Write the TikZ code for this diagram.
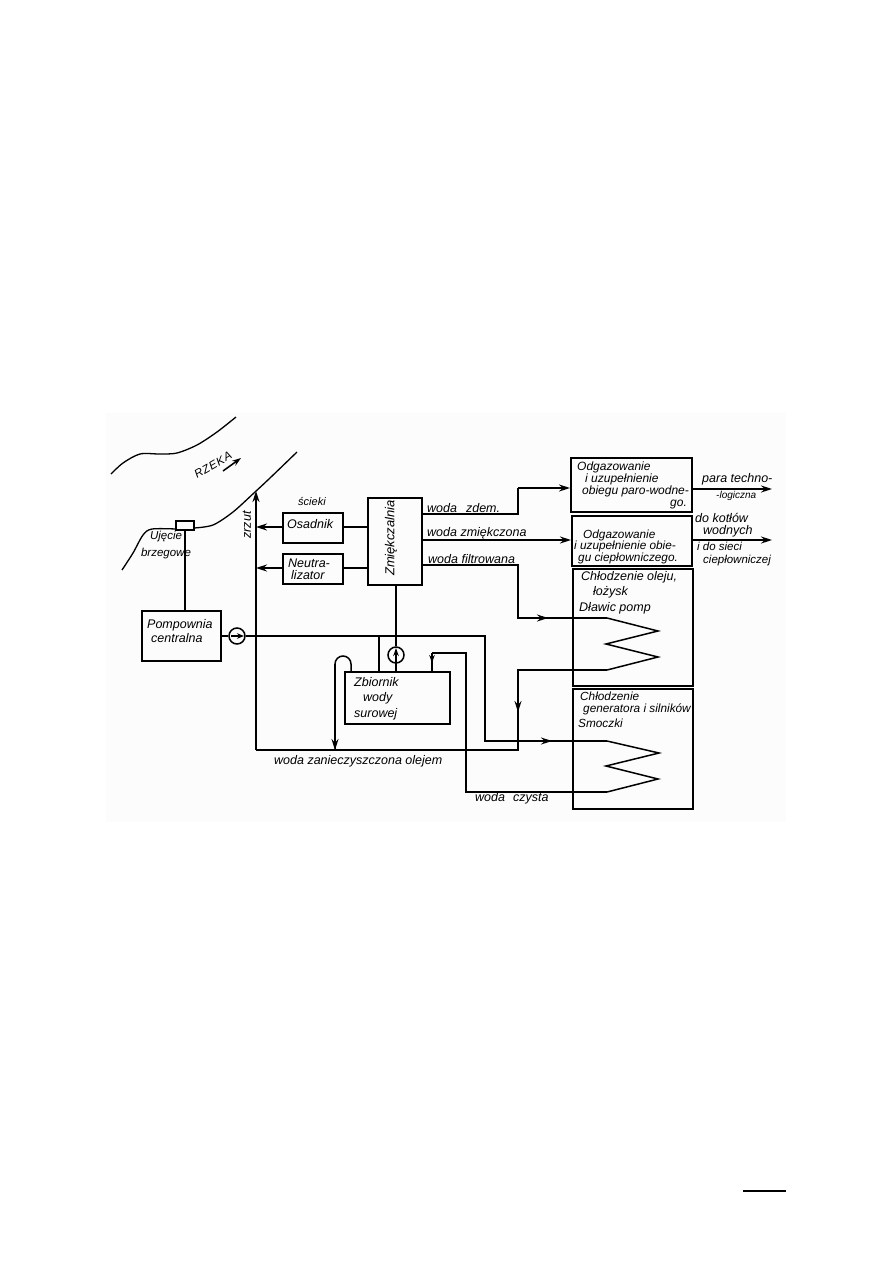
\documentclass[tikz,border=0pt]{standalone}
\usepackage{fontspec}
\setmainfont{Liberation Sans}
\usepackage{tikz}
\usetikzlibrary{arrows.meta, positioning}

\tikzset{
	box/.style={draw, line width=1.5pt, inner sep=0pt, anchor=north west},
	label/.style={font=\itshape\fontsize{12.5}{12}\selectfont, align=left, inner sep=0pt, anchor=west},
	pump/.style={draw, circle, line width=1.5pt, minimum size=16pt, inner sep=0pt},
	line/.style={line width=1.5pt},
	flow/.style={line width=1.5pt, -{Stealth[length=11pt,width=7pt]}},
	shore/.style={line width=1.3pt, smooth},
}

\begin{document}
\begin{tikzpicture}[x=1pt, y=-1pt]
	\useasboundingbox (0,0) rectangle (893,1263);
	\fill[black!1] (106,413) rectangle (786,822);
	
	% rzeka
	\draw[shore] plot coordinates {(111,474) (123,463) (140,454) (160,454) (177,453) (197,445) (217,432) (236,417)};
	\draw[shore] plot coordinates {(122,570) (133,553) (143,535) (152,529) (176,529)};
	\draw[shore] plot coordinates {(194,528) (213,525) (233,512) (255,492) (270,478) (297,452)};
	\node[rotate=30, inner sep=0pt, font=\itshape\fontsize{11.5}{12}\selectfont\addfontfeature{LetterSpace=6}] (rzeka) at (213,465) {RZEKA};
	\coordinate (rzekaA) at (223,471);
	\coordinate (rzekaB) at (241,458);
	\draw[flow, -{Stealth[length=9pt,width=6pt]}] (rzekaA) -- (rzekaB);
	
	% bloki po lewej
	\node[box, minimum width=18pt, minimum height=9pt] (ujecie) at (175,520) {};
	\node[label, align=center, anchor=center, font=\itshape\fontsize{11.5}{17}\selectfont] (ujecieT) at (166,545) {Ujęcie\\brzegowe};
	\node[box, minimum width=79pt, minimum height=50pt] (pompownia) at (141,610) {};
	\node[label, font=\itshape\fontsize{12.5}{14}\selectfont] at (147,631) {Pompownia\\\hspace{4pt}centralna};
	\node[pump] (pump1) at (237,636) {};
	\draw[line] (ujecie.south) -- (ujecie.south |- pompownia.north);
	\draw[line] (pompownia.east |- pump1) -- (pump1);
	
	% zrzut
	\node[box, minimum width=60pt, minimum height=30pt] (osadnik) at (282,512) {};
	\node[label] at (287,524) {Osadnik};
	\node[label, font=\itshape\fontsize{11}{12}\selectfont] (scieki) at (298,501) {ścieki};
	\node[box, minimum width=60pt, minimum height=30pt] (neutr) at (282,553) {};
	\node[label] at (288,569.5) {Neutra-\\\hspace{3pt}lizator};
	\node[box, minimum width=54pt, minimum height=87pt] (zmiek) at (367,497) {};
	\node[label, anchor=center, rotate=90, font=\itshape\fontsize{13}{12}\selectfont] at (391,538) {Zmiękczalnia};
	\node[label, anchor=center, rotate=90] (zrzut) at (247,525) {zrzut};
	\coordinate (zrzutTop) at (256,491);
	\coordinate (zrzutBot) at (256,750);
	\coordinate (osadL) at (256,527);
	\coordinate (neutrL) at (256,568);
	\draw[flow, line width=1.7pt] (zrzutBot) -- (zrzutTop);
	\draw[flow] (osadnik.west |- osadL) -- (osadL);
	\draw[flow] (neutr.west |- neutrL) -- (neutrL);
	\draw[line] (osadnik.east |- osadL) -- (zmiek.west |- osadL);
	\draw[line] (neutr.east |- neutrL) -- (zmiek.west |- neutrL);
	
	% zbiornik
	\node[box, minimum width=105pt, minimum height=52pt] (zbiornik) at (344,671) {};
	\node[label, font=\itshape\fontsize{12.5}{15.5}\selectfont] at (354,698.5) {Zbiornik\\\hspace{9pt}wody\\surowej};
	\node[pump] (pump2) at (396,655) {};
	\coordinate (pump2arrow) at (396,648);
	\draw[line] (zmiek.south -| pump2) -- (pump2);
	\draw[line] (pump2) -- (zbiornik.north -| pump2);
	\draw[flow, -{Stealth[length=8pt,width=5.5pt]}] (pump2.south) -- (pump2arrow);
	\coordinate (pump1A) at (231,636);
	\coordinate (pump1B) at (244,636);
	\draw[flow, -{Stealth[length=7pt,width=5.5pt]}] (pump1A) -- (pump1B);
	
	% glowna linia wody
	\coordinate (stem) at (379,636);
	\coordinate (mainA) at (485,636);
	\coordinate (mainB) at (485,741);
	\coordinate (zig2A) at (607,741);
	\coordinate (arrowB) at (552,741);
	\draw[line] (pump1) -- (stem) -- (mainA) -- (mainB) -- (zig2A);
	\draw[flow] (mainB) -- (arrowB);
	\draw[line] (stem) -- (zbiornik.north -| stem);
	
	% woda zanieczyszczona
	\coordinate (loopA) at (351,671);
	\coordinate (loopB) at (335,664);
	\coordinate (loopC) at (335,750);
	\coordinate (botR) at (518,750);
	\coordinate (upR) at (518,670);
	\coordinate (zig1B) at (607,670);
	\coordinate (arrowD) at (518,712);
	\draw[line] (loopA) -- (351,664) arc[start angle=0, end angle=-180, radius=8] -- (loopC);
	\draw[flow] (loopB) -- (loopC);
	\draw[line] (zrzutBot) -- (botR) -- (upR) -- (zig1B);
	\draw[flow] (upR) -- (arrowD);
	\node[label] (zanT) at (274,761) {woda zanieczyszczona olejem};
	
	% woda czysta
	\coordinate (czA) at (432,671);
	\coordinate (czB) at (432,653);
	\coordinate (czC) at (466,653);
	\coordinate (czD) at (466,792);
	\coordinate (zig2B) at (607,792);
	\coordinate (czArrow) at (432,663);
	\draw[line] (zig2B) -- (czD) -- (czC) -- (czB);
	\draw[flow, -{Stealth[length=8pt,width=5.5pt]}] (czB) -- (czArrow);
	\draw[line] (czB) -- (czA);
	\node[label] (czT) at (475,798) {woda\hspace{8pt}czysta};
	
	% bloki po prawej
	\node[box, minimum width=121pt, minimum height=54pt] (odg1) at (570,457) {};
	\node[label, font=\itshape\fontsize{12}{12}\selectfont] at (577,485) {Odgazowanie\\\hspace{8pt}i uzupełnienie\\\hspace{5pt}obiegu paro-wodne-\\\hspace{93pt}go.};
	\node[box, minimum width=120pt, minimum height=50pt] (odg2) at (571,515) {};
	\node[label, font=\itshape\fontsize{11.8}{11.5}\selectfont] at (574,546.5) {\hspace{9pt}Odgazowanie\\i uzupełnienie obie-\\\hspace{4pt}gu ciepłowniczego.};
	\node[box, minimum width=120pt, minimum height=117pt] (chl1) at (572,568) {};
	\node[label, font=\itshape\fontsize{12.5}{15.5}\selectfont] at (579,592.5) {\hspace{2pt}Chłodzenie oleju,\\\hspace{14pt}łożysk\\Dławic pomp};
	\node[box, minimum width=120pt, minimum height=120pt] (chl2) at (572,688) {};
	\node[label, font=\itshape\fontsize{11.8}{12}\selectfont] at (578,709.5) {\hspace{2pt}Chłodzenie\\\hspace{5pt}generatora i silników\\[3pt]Smoczki};
	
	% wezownice
	\coordinate (zig1A) at (607,618);
	\coordinate (zig1C) at (658,631);
	\coordinate (zig1D) at (606,644);
	\coordinate (zig1E) at (658,657);
	\coordinate (zig2C) at (659,753);
	\coordinate (zig2D) at (606,766);
	\coordinate (zig2E) at (658,779);
	\draw[line] (zig1A) -- (zig1C) -- (zig1D) -- (zig1E) -- (zig1B);
	\draw[line] (zig2A) -- (zig2C) -- (zig2D) -- (zig2E) -- (zig2B);
	
	% wyjscia zmiekczalni
	\coordinate (zdemB) at (518,514);
	\coordinate (zdemC) at (518,488);
	\coordinate (zmA) at (421,540);
	\coordinate (filtB) at (518,565);
	\coordinate (filtC) at (518,618);
	\coordinate (arrowF) at (548,618);
	\draw[line] (zmiek.east |- zdemB) -- (zdemB) -- (zdemC);
	\draw[flow] (zdemC) -- (odg1.west |- zdemC);
	\draw[flow] (zmA) -- (odg2.west |- zmA);
	\draw[line] (zmiek.east |- filtB) -- (filtB) -- (filtC) -- (zig1A);
	\draw[flow] (filtC) -- (arrowF);
	\node[label] at (427,508) {woda\hspace{9pt}zdem.};
	\node[label] at (427,533) {woda zmiękczona};
	\node[label] at (428,559) {woda filtrowana};
	
	% wyjscia parowe
	\coordinate (paraR) at (772,489);
	\coordinate (kotlyR) at (772,540);
	\draw[flow] (odg1.east |- paraR) -- (paraR);
	\draw[flow] (odg2.east |- kotlyR) -- (kotlyR);
	\node[label] at (702,479) {para techno-};
	\node[label, font=\itshape\fontsize{10}{10}\selectfont] (paraT) at (716,496) {-logiczna};
	\node[label] at (695,525) {do kotłów\\\hspace{8pt}wodnych};
	\node[label, font=\itshape\fontsize{11.5}{13}\selectfont] at (697,554.5) {i do sieci\\\hspace{6pt}ciepłowniczej};
	
	% kreska na dole strony
	\coordinate (dashA) at (743,1191);
	\coordinate (dashB) at (786,1191);
	\draw[line width=2.4pt] (dashA) -- (dashB);
\end{tikzpicture}
\end{document}
